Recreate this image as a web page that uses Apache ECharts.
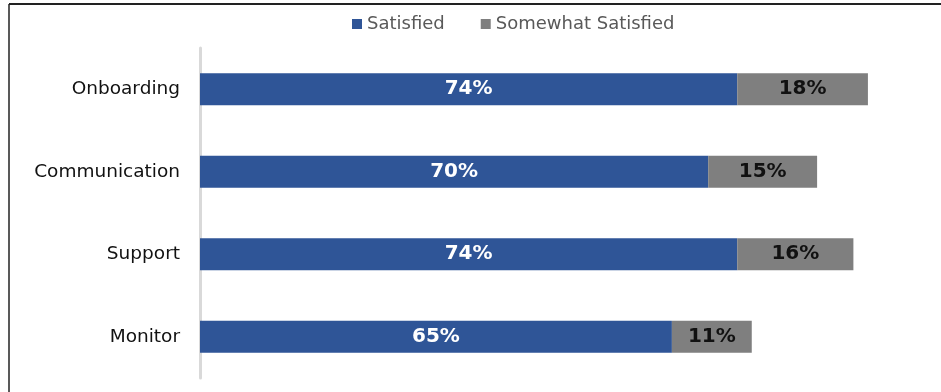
<!DOCTYPE html>
<html><head><meta charset="utf-8">
<script src="https://cdn.jsdelivr.net/npm/echarts@6/dist/echarts.min.js"></script>
<style>html,body{margin:0;padding:0;background:#fff}#c{width:941px;height:392px}</style>
</head><body><div id="c"></div>
<script>
var categories = ['Onboarding', 'Communication', 'Support', 'Monitor'];
var satisfied = [74, 70, 74, 65];
var somewhatSatisfied = [18, 15, 16, 11];
var seriesNames = ['Satisfied', 'Somewhat Satisfied'];

var chart = echarts.init(document.getElementById('c'));
var font = 'DejaVu Sans';
chart.setOption({
  animation: false,
  textStyle: { fontFamily: font },
  graphic: [
    { type: 'line', shape: { x1: 9, y1: 4, x2: 941, y2: 4 }, style: { stroke: '#222', lineWidth: 2 } },
    { type: 'line', shape: { x1: 9, y1: 4, x2: 9, y2: 392 }, style: { stroke: '#222', lineWidth: 1.5 } }
  ],
  legend: {
    top: 10, left: 347,
    itemWidth: 10, itemHeight: 10, itemGap: 36,
    icon: 'rect',
    textStyle: { fontFamily: font, fontSize: 18, color: '#595959' },
    data: seriesNames
  },
  grid: { left: 200, right: 15, top: 48, bottom: 14, containLabel: false },
  xAxis: {
    type: 'value', min: 0, max: 100,
    show: false
  },
  yAxis: {
    type: 'category', inverse: true, data: categories,
    axisLine: { show: true, lineStyle: { color: '#d9d9d9', width: 3 } },
    axisTick: { show: false },
    axisLabel: { fontFamily: font, fontSize: 18.5, color: '#111', margin: 20 }
  },
  series: [
    {
      name: seriesNames[0], type: 'bar', stack: 's', data: satisfied, barWidth: 32,
      itemStyle: { color: '#2F5597' },
      label: { show: true, position: 'inside', formatter: '{c}%', color: '#fff', fontWeight: 'bold', fontSize: 20, fontFamily: font }
    },
    {
      name: seriesNames[1], type: 'bar', stack: 's', data: somewhatSatisfied, barWidth: 32,
      itemStyle: { color: '#7F7F7F' },
      label: { show: true, position: 'inside', formatter: '{c}%', color: '#111', fontWeight: 'bold', fontSize: 20, fontFamily: font }
    }
  ]
});
</script></body></html>
